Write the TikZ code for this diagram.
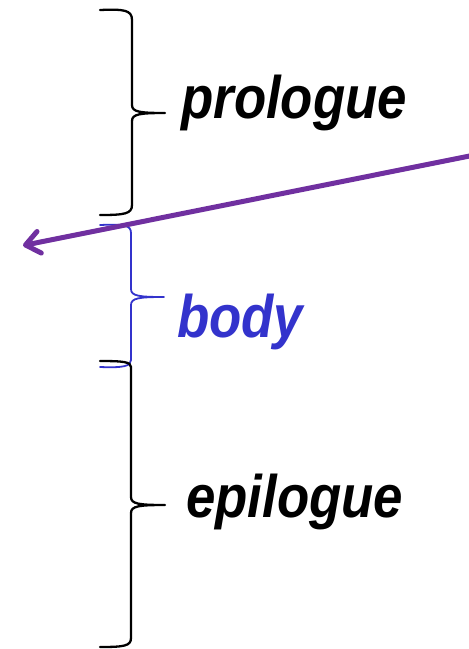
\documentclass[tikz,border=0pt]{standalone}
\usepackage{fontspec}
\setmainfont{Liberation Sans}
\newfontfamily\labelfont[FakeStretch=0.88]{Liberation Sans}
\usetikzlibrary{arrows.meta}
\definecolor{arrowpurple}{HTML}{7030A0}
\definecolor{bodyblue}{HTML}{3333CC}
\tikzset{
  bracepath/.style={line width=2.3pt, line join=round, line cap=round},
  lbl/.style={anchor=base west, inner sep=0pt, font=\labelfont\fontsize{60}{60}\selectfont\bfseries\itshape},
}
\begin{document}
\begin{tikzpicture}[x=1pt,y=-1pt]
\useasboundingbox (0,0) rectangle (469,649);
% prologue brace
\draw[bracepath, black] (100,10) .. controls (124,9) and (132,10) .. (132,20) -- (132,105)
  .. controls (132,112) and (140,113) .. (165,113)
  .. controls (140,113) and (132,114) .. (132,121) -- (132,205)
  .. controls (132,214) and (124,215) .. (100,215);
% body brace
\draw[bracepath, bodyblue, line width=1.8pt] (100,225) .. controls (124,224) and (131,225) .. (131,233) -- (131,289)
  .. controls (131,296) and (139,297) .. (164,297)
  .. controls (139,297) and (131,298) .. (131,305) -- (131,360)
  .. controls (131,366) and (124,368) .. (100,367);
% epilogue brace
\draw[bracepath, black] (100,361) .. controls (124,361) and (131,362) .. (131,367) -- (131,497)
  .. controls (131,504) and (139,505) .. (165,505)
  .. controls (139,505) and (131,506) .. (131,513) -- (131,638)
  .. controls (131,646) and (124,647) .. (100,647);
% labels
\node[lbl] (prologue) at (181,118) {prologue};
\node[lbl, text=bodyblue] (body) at (177,337) {body};
\node[lbl] (epilogue) at (186,517) {epilogue};
% arrow
\coordinate (astart) at (472,155.5);
\coordinate (aend) at (23,245.5);
\draw[arrowpurple, line width=5pt, line cap=round, -{Straight Barb[length=14pt, width=22pt, line cap=round, line join=round]}] (astart) -- (aend);
\end{tikzpicture}
\end{document}
